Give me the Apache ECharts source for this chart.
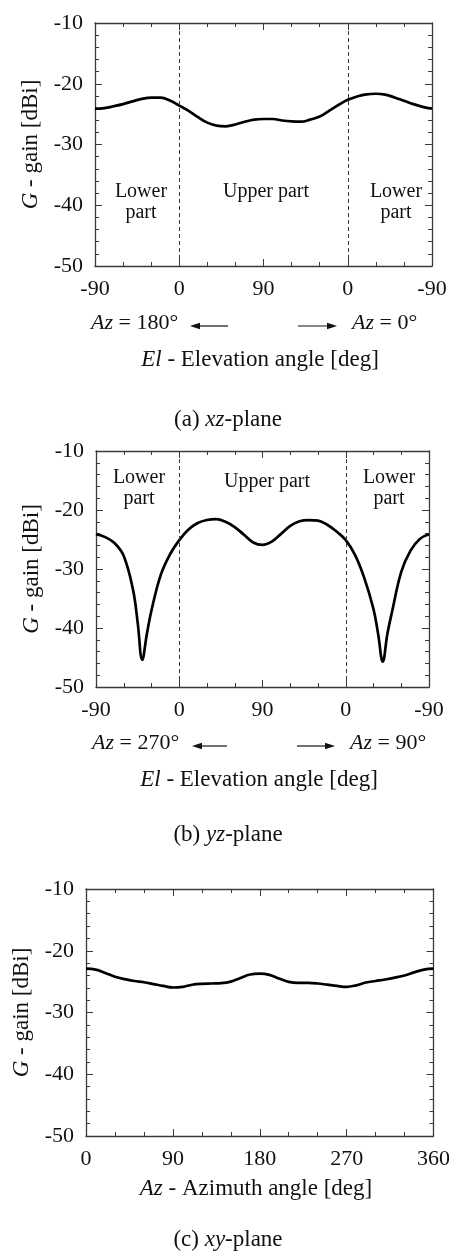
<!DOCTYPE html>
<html>
<head>
<meta charset="utf-8">
<script src="https://cdn.jsdelivr.net/npm/echarts@6/dist/echarts.min.js"></script>
<style>
  html, body { margin: 0; padding: 0; background: #fff; }
  #chart { width: 453px; height: 1259px; }
</style>
</head>
<body>
<div id="chart"></div>
<script>
// (a) xz-plane, angle runs 0..360 along the cut, labelled as El
var xzAngle = [0, 10, 20, 30, 40, 50, 60, 70, 80, 90, 100, 110, 120, 130, 140, 150, 160, 170, 180, 190, 200, 210, 220, 230, 240, 250, 260, 270, 280, 290, 300, 310, 320, 330, 340, 350, 360];
var xzGain  = [-24.1, -24.0, -23.7, -23.35, -22.9, -22.5, -22.3, -22.3, -22.75, -23.6, -24.45, -25.5, -26.4, -26.9, -27.0, -26.7, -26.25, -25.9, -25.8, -25.8, -26.05, -26.2, -26.25, -25.9, -25.4, -24.45, -23.5, -22.65, -22.1, -21.75, -21.65, -21.8, -22.25, -22.8, -23.35, -23.8, -24.1];

// (b) yz-plane
var yzAngle = [0, 10, 20, 30, 40, 45, 50, 55, 60, 70, 80, 90, 100, 110, 120, 130, 140, 150, 160, 170, 180, 190, 200, 210, 220, 230, 240, 250, 260, 270, 280, 290, 300, 305, 310, 315, 320, 330, 340, 350, 360];
var yzGain  = [-24.1, -24.6, -25.6, -27.8, -33.5, -39.0, -45.4, -41.0, -37.0, -31.0, -27.5, -25.1, -23.3, -22.2, -21.7, -21.55, -22.0, -22.9, -24.2, -25.5, -25.9, -25.35, -24.05, -22.7, -21.9, -21.7, -21.8, -22.5, -23.65, -25.1, -27.6, -31.5, -36.8, -41.0, -45.7, -41.0, -37.3, -30.5, -26.9, -24.9, -24.1];

// (c) xy-plane
var xyAngle = [0, 10, 20, 30, 40, 50, 60, 70, 80, 90, 100, 110, 120, 130, 140, 150, 160, 170, 180, 190, 200, 210, 220, 230, 240, 250, 260, 270, 280, 290, 300, 310, 320, 330, 340, 350, 360];
var xyGain  = [-22.9, -23.05, -23.6, -24.2, -24.6, -24.9, -25.1, -25.4, -25.7, -25.95, -25.85, -25.5, -25.35, -25.3, -25.25, -25.0, -24.4, -23.85, -23.7, -23.9, -24.5, -25.05, -25.2, -25.2, -25.3, -25.5, -25.7, -25.85, -25.6, -25.15, -24.9, -24.65, -24.35, -24.0, -23.5, -23.05, -22.9];

var elTickLabels = ['-90', '0', '90', '0', '-90'];
var azTickLabels = ['0', '90', '180', '270', '360'];
var dividerAngles = [90, 270];

var FONT = "'Liberation Serif', 'Times New Roman', serif";
var INK = '#111';
var FRAME = '#3a3a3a';

var grids = [
  { left: 95, top: 23, width: 337, height: 243 },
  { left: 96, top: 451, width: 333, height: 236 },
  { left: 86, top: 889, width: 348, height: 247 }
];

function pairs(xs, ys) {
  return xs.map(function (x, i) { return [x, ys[i]]; });
}

function xAxisFor(g, pos, labels) {
  return {
    type: 'value', gridIndex: g, position: pos,
    min: 0, max: 360, interval: 90,
    axisLine: { show: true, onZero: false, lineStyle: { color: FRAME, width: 1.3 } },
    axisTick: { show: true, inside: true, length: 7, lineStyle: { color: FRAME } },
    minorTick: { show: true, splitNumber: 3, length: 4, lineStyle: { color: FRAME } },
    splitLine: { show: false },
    axisLabel: pos === 'bottom' ? {
      show: true, margin: 12, color: INK, fontFamily: FONT, fontSize: 22,
      formatter: function (v) { return labels[Math.round(v / 90)]; }
    } : { show: false }
  };
}

function yAxisFor(g, pos, gap) {
  return {
    type: 'value', gridIndex: g, position: pos,
    min: -50, max: -10, interval: 10,
    name: pos === 'left' ? '{i|G} - gain [dBi]' : '',
    nameLocation: 'middle', nameGap: gap, nameRotate: 90,
    nameTextStyle: {
      color: INK, fontFamily: FONT, fontSize: 23,
      rich: { i: { fontStyle: 'italic', fontFamily: FONT, fontSize: 23, color: INK } }
    },
    axisLine: { show: true, onZero: false, lineStyle: { color: FRAME, width: 1.3 } },
    axisTick: { show: true, inside: true, length: 7, lineStyle: { color: FRAME } },
    minorTick: { show: true, splitNumber: 5, length: 4, lineStyle: { color: FRAME } },
    splitLine: { show: false },
    axisLabel: pos === 'left' ? { show: true, margin: 12, color: INK, fontFamily: FONT, fontSize: 22 } : { show: false }
  };
}

function curve(idx, data, withDividers) {
  var s = {
    type: 'line', xAxisIndex: idx * 2, yAxisIndex: idx * 2,
    data: data, smooth: 0.4, showSymbol: false, silent: true,
    lineStyle: { color: '#000', width: 2.7 }
  };
  if (withDividers) {
    s.markLine = {
      silent: true, symbol: ['none', 'none'], label: { show: false },
      lineStyle: { color: FRAME, width: 1, type: [4, 3] },
      data: dividerAngles.map(function (a) { return { xAxis: a }; })
    };
  }
  return s;
}

function richFor(size) {
  return { i: { fontStyle: 'italic', fontFamily: FONT, fontSize: size, fill: INK, color: INK } };
}

function txt(x, y, text, size, align, lh) {
  return {
    type: 'text', x: x, y: y, silent: true,
    style: {
      text: text, fontFamily: FONT, fontSize: size, fill: INK,
      textAlign: align, align: align,
      textVerticalAlign: 'middle', verticalAlign: 'middle',
      lineHeight: lh || size, rich: richFor(size)
    }
  };
}

function arrow(xFrom, xTo, y) {
  var dir = xTo > xFrom ? 1 : -1;
  return [
    { type: 'line', silent: true, shape: { x1: xFrom, y1: y, x2: xTo - dir * 6, y2: y }, style: { stroke: INK, lineWidth: 1.2 } },
    { type: 'polygon', silent: true, shape: { points: [[xTo, y], [xTo - dir * 10, y - 3.2], [xTo - dir * 10, y + 3.2]] }, style: { fill: INK } }
  ];
}

var graphics = [
  // (a)
  txt(141, 202, 'Lower\npart', 20, 'center', 21),
  txt(266, 192, 'Upper part', 20, 'center'),
  txt(396, 202, 'Lower\npart', 20, 'center', 21),
  txt(91, 323, '{i|Az} = 180°', 22, 'left'),
  txt(352, 323, '{i|Az} = 0°', 22, 'left'),
  txt(260, 360, '{i|El} - Elevation angle [deg]', 23, 'center'),
  txt(228, 420, '(a) {i|xz}-plane', 23, 'center'),
  // (b)
  txt(139, 488, 'Lower\npart', 20, 'center', 21),
  txt(267, 482, 'Upper part', 20, 'center'),
  txt(389, 488, 'Lower\npart', 20, 'center', 21),
  txt(92, 743, '{i|Az} = 270°', 22, 'left'),
  txt(350, 743, '{i|Az} = 90°', 22, 'left'),
  txt(259, 780, '{i|El} - Elevation angle [deg]', 23, 'center'),
  txt(228, 835, '(b) {i|yz}-plane', 23, 'center'),
  // (c)
  txt(256, 1189, '{i|Az} - Azimuth angle [deg]', 23, 'center'),
  txt(228, 1240, '(c) {i|xy}-plane', 23, 'center')
].concat(arrow(228, 190, 326), arrow(298, 337, 326), arrow(227, 192, 746), arrow(297, 335, 746));

var chart = echarts.init(document.getElementById('chart'), null, { renderer: 'canvas' });
chart.setOption({
  animation: false,
  backgroundColor: '#fff',
  textStyle: { fontFamily: FONT },
  grid: grids,
  xAxis: [
    xAxisFor(0, 'bottom', elTickLabels), xAxisFor(0, 'top', elTickLabels),
    xAxisFor(1, 'bottom', elTickLabels), xAxisFor(1, 'top', elTickLabels),
    xAxisFor(2, 'bottom', azTickLabels), xAxisFor(2, 'top', azTickLabels)
  ],
  yAxis: [
    yAxisFor(0, 'left', 50), yAxisFor(0, 'right', 0),
    yAxisFor(1, 'left', 50), yAxisFor(1, 'right', 0),
    yAxisFor(2, 'left', 52), yAxisFor(2, 'right', 0)
  ],
  series: [
    curve(0, pairs(xzAngle, xzGain), true),
    curve(1, pairs(yzAngle, yzGain), true),
    curve(2, pairs(xyAngle, xyGain), false)
  ],
  graphic: graphics
});
</script>
</body>
</html>
